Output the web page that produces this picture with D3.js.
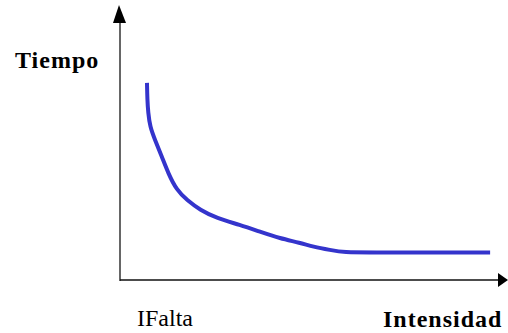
<!DOCTYPE html>
<html>
<head>
<meta charset="utf-8">
<script src="https://cdn.jsdelivr.net/npm/d3@7"></script>
<style>
  body { margin: 0; background: #fff; }
  svg text { font-family: "Liberation Serif", "Times New Roman", serif; }
</style>
</head>
<body>
<div id="chart"></div>
<script>
// curve (intensity, time)
var intensidad = [0.71, 0.71, 0.72, 0.74, 0.79, 0.92, 1.10, 1.27, 1.49, 1.76, 2.11, 2.54, 3.16, 3.68, 4.21, 4.74, 5.08, 5.53, 5.92, 6.5, 9.74, 9.74];
var tiempo     = [7.30, 7.30, 6.67, 6.22, 5.67, 5.19, 4.57, 3.95, 3.33, 2.96, 2.59, 2.29, 2.04, 1.79, 1.54, 1.38, 1.23, 1.11, 1.02, 1.02, 1.02, 1.02];
var yLabel = 'Tiempo';
var xLabel = 'Intensidad';
var xMark = 'IFalta';

var width = 508, height = 333;

var svg = d3.select('#chart')
  .append('svg')
  .attr('width', width)
  .attr('height', height);

var x = d3.scaleLinear().domain([0, 10]).range([120, 500]);
var y = d3.scaleLinear().domain([0, 10]).range([280, 10]);

// axes
svg.append('line')
  .attr('x1', x(0)).attr('x2', x(0))
  .attr('y1', y(0) + 1).attr('y2', 20)
  .attr('stroke', '#666').attr('stroke-width', 2);
svg.append('path')
  .attr('d', 'M' + (x(0) - 7) + ',23 L' + (x(0) - 1) + ',5 L' + (x(0) + 6) + ',23 Z')
  .attr('fill', '#000');

svg.append('line')
  .attr('x1', x(0)).attr('x2', 500)
  .attr('y1', y(0)).attr('y2', y(0))
  .attr('stroke', '#111').attr('stroke-width', 1.5);
svg.append('path')
  .attr('d', 'M498,' + (y(0) - 7) + ' L508,' + y(0) + ' L498,' + (y(0) + 7) + ' Z')
  .attr('fill', '#000');

// curve
var pts = intensidad.map(function (d, i) { return [d, tiempo[i]]; });
var line = d3.line()
  .x(function (d) { return x(d[0]); })
  .y(function (d) { return y(d[1]); })
  .curve(d3.curveBasis);

svg.append('path')
  .attr('d', line(pts))
  .attr('fill', 'none')
  .attr('stroke', '#3434cc')
  .attr('stroke-width', 4);

// labels
svg.append('text')
  .attr('x', 15).attr('y', 68)
  .style('font-size', '24px').style('font-weight', 'bold')
  .style('letter-spacing', '1px')
  .text(yLabel);

svg.append('text')
  .attr('x', 383).attr('y', 327)
  .style('font-size', '24px').style('font-weight', 'bold')
  .style('letter-spacing', '1px')
  .text(xLabel);

svg.append('text')
  .attr('x', 137).attr('y', 326)
  .style('font-size', '24px')
  .text(xMark);
</script>
</body>
</html>
